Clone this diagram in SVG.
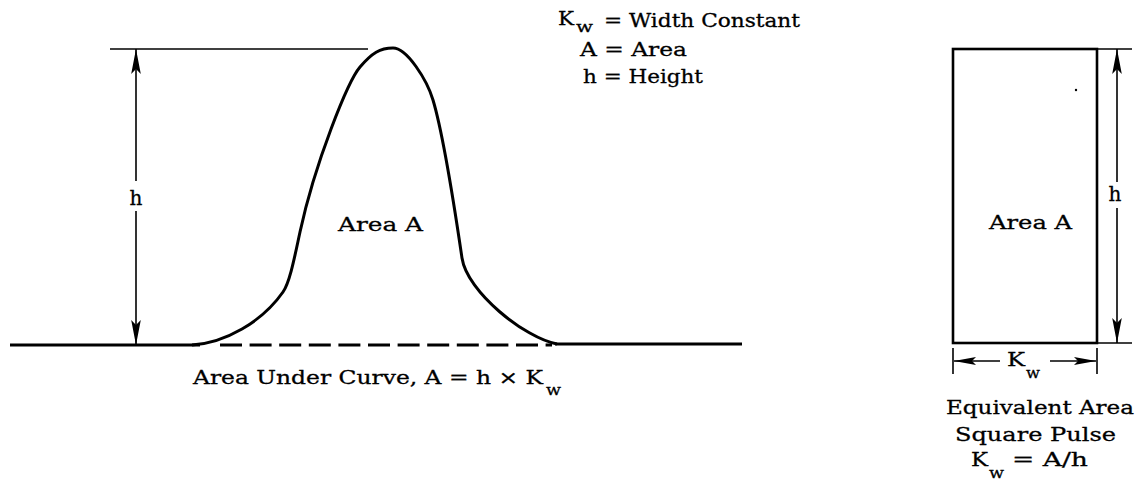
<svg xmlns="http://www.w3.org/2000/svg" width="1142" height="489" viewBox="0 0 1142 489">
<defs>
<marker id="ah" viewBox="-26 -6 27 12" markerWidth="27" markerHeight="12" refX="0" refY="0" orient="auto-start-reverse" markerUnits="userSpaceOnUse">
<path d="M0,0 L-25,-4.8 L-20,0 L-25,4.8 Z" fill="#000"/>
</marker>
<marker id="ahs" viewBox="-24 -5 25 10" markerWidth="25" markerHeight="10" refX="0" refY="0" orient="auto-start-reverse" markerUnits="userSpaceOnUse">
<path d="M0,0 L-22,-4 L-18,0 L-22,4 Z" fill="#000"/>
</marker>
</defs>
<style>
.t{font-family:"DejaVu Serif","Liberation Serif",serif;font-size:19px;fill:#000;stroke:#000;stroke-width:0.3}
.s{font-family:"DejaVu Serif","Liberation Serif",serif;font-size:15px;fill:#000;stroke:#000;stroke-width:0.3}
.thin{stroke:#000;stroke-width:1.6;fill:none}
.thick{stroke:#000;stroke-width:3;fill:none}
</style>
<rect width="1142" height="489" fill="#fff"/>

<g id="legend">
<text class="t" x="558" y="25" textLength="16" lengthAdjust="spacingAndGlyphs">K</text>
<text class="s" x="576" y="32" textLength="17" lengthAdjust="spacingAndGlyphs">w</text>
<text class="t" x="604" y="27" textLength="196" lengthAdjust="spacingAndGlyphs">= Width Constant</text>
<text class="t" x="580" y="56" textLength="107" lengthAdjust="spacingAndGlyphs">A = Area</text>
<text class="t" x="583" y="83" textLength="120" lengthAdjust="spacingAndGlyphs">h = Height</text>
</g>

<g id="pulse-curve">
<line class="thick" x1="10" y1="345" x2="200" y2="345"/>
<line x1="220" y1="345" x2="552" y2="345" stroke="#000" stroke-width="3" stroke-dasharray="22 7.6"/>
<line class="thick" x1="555" y1="344" x2="742" y2="344"/>
<path class="thick" d="M 192 345 C 225 343, 262 322, 283 292 C 290 282, 295 255, 300 232 C 315 162.5, 348 81, 360 67 C 372 53, 380 48, 393 48 C 407 48, 427 80, 433 100 C 442 130, 452 190, 462 258 C 467 292, 525 338, 557 344"/>
<text class="t" x="338" y="231" textLength="85" lengthAdjust="spacingAndGlyphs">Area A</text>
<text class="t" x="193" y="384" textLength="350" lengthAdjust="spacingAndGlyphs">Area Under Curve, A = h × K</text>
<text class="s" x="546" y="395" textLength="15" lengthAdjust="spacingAndGlyphs">w</text>
</g>

<g id="square-pulse">
<rect x="953" y="49" width="144" height="294" fill="none" stroke="#000" stroke-width="2.6"/>
<circle cx="1076" cy="90" r="1.2" fill="#000"/>
<text class="t" x="989" y="229" textLength="83" lengthAdjust="spacingAndGlyphs">Area A</text>
<text class="t" x="946" y="414" textLength="188" lengthAdjust="spacingAndGlyphs">Equivalent Area</text>
<text class="t" x="955" y="441" textLength="161" lengthAdjust="spacingAndGlyphs">Square Pulse</text>
<text class="t" x="971" y="466" textLength="17" lengthAdjust="spacingAndGlyphs">K</text>
<text class="s" x="989" y="478" textLength="15" lengthAdjust="spacingAndGlyphs">w</text>
<text class="t" x="1012" y="466" textLength="76" lengthAdjust="spacingAndGlyphs">= A/h</text>
</g>

<g id="connectors">
<line class="thin" x1="110" y1="49" x2="368" y2="49"/>
<line class="thin" x1="136" y1="49" x2="136" y2="181" marker-start="url(#ah)"/>
<line class="thin" x1="136" y1="211" x2="136" y2="345" marker-end="url(#ah)"/>
<text class="t" x="136" y="205" text-anchor="middle" style="font-size:20px">h</text>

<line class="thin" x1="1097" y1="49" x2="1132" y2="49"/>
<line class="thin" x1="1097" y1="343" x2="1132" y2="343"/>
<line class="thin" x1="1117" y1="49" x2="1117" y2="182" marker-start="url(#ah)"/>
<line class="thin" x1="1117" y1="208" x2="1117" y2="343" marker-end="url(#ah)"/>
<text class="t" x="1115" y="201" text-anchor="middle" style="font-size:20px">h</text>

<line class="thin" x1="953" y1="348" x2="953" y2="374"/>
<line class="thin" x1="1097" y1="348" x2="1097" y2="374"/>
<line class="thin" x1="1000" y1="361" x2="954" y2="361" marker-end="url(#ahs)"/>
<line class="thin" x1="1050" y1="361" x2="1096" y2="361" marker-end="url(#ahs)"/>
<text class="t" x="1007" y="366" textLength="18" lengthAdjust="spacingAndGlyphs">K</text>
<text class="s" x="1026" y="378" textLength="14" lengthAdjust="spacingAndGlyphs">w</text>
</g>
</svg>
